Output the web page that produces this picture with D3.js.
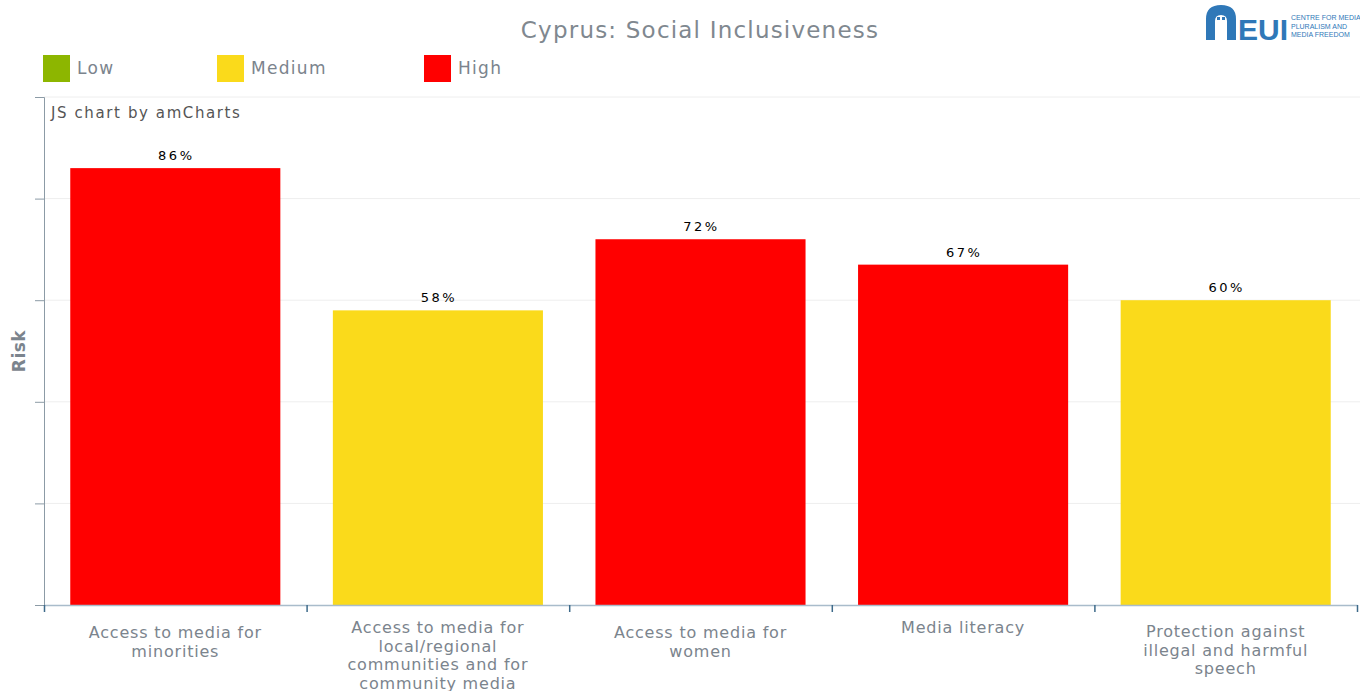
<!DOCTYPE html>
<html><head><meta charset="utf-8">
<script src="https://cdn.jsdelivr.net/npm/d3@7"></script>
<style>body{margin:0;background:#fff;} svg{display:block;font-family:"DejaVu Sans",Verdana,sans-serif;}</style>
</head><body>
<svg id="chart" width="1360" height="691"></svg>
<script>
const categories = [
  ["Access to media for", "minorities"],
  ["Access to media for", "local/regional", "communities and for", "community media"],
  ["Access to media for", "women"],
  ["Media literacy"],
  ["Protection against", "illegal and harmful", "speech"]
];
const values = [86, 58, 72, 67, 60];
const riskLevels = ["High", "Medium", "High", "High", "Medium"];
const legendLabels = ["Low", "Medium", "High"];
const legendColors = ["#8DB600", "#FADA1B", "#FF0000"];
const yTicks = [0, 20, 40, 60, 80, 100];

const svg = d3.select("#chart");
const W = 1360, H = 691;
const m = {left: 44, right: 3, top: 97, bottom: 86};
const x = d3.scaleBand().domain(d3.range(values.length)).range([m.left, W - m.right]).paddingInner(0.2).paddingOuter(0.1);
const xb = d3.scaleLinear().domain([0, values.length]).range([m.left, W - m.right]);
const y = d3.scaleLinear().domain([0, 100]).range([H - m.bottom, m.top]);
const color = d3.scaleOrdinal().domain(legendLabels).range(legendColors);
const textGray = "#7b848d";

// gridlines
svg.append("g").selectAll("line").data(yTicks.slice(1)).join("line")
  .attr("x1", m.left).attr("x2", W).attr("y1", d => y(d)).attr("y2", d => y(d))
  .attr("stroke", "#eeeeee").attr("stroke-width", 1);

// bars
svg.append("g").selectAll("rect").data(values).join("rect")
  .attr("x", (d, i) => x(i)).attr("width", x.bandwidth())
  .attr("y", d => y(d)).attr("height", d => y(0) - y(d))
  .attr("fill", (d, i) => color(riskLevels[i]));

// value labels
svg.append("g").selectAll("text").data(values).join("text")
  .attr("x", (d, i) => x(i) + x.bandwidth() / 2 + 1).attr("y", d => y(d) - 8)
  .attr("text-anchor", "middle").attr("font-size", 13).attr("letter-spacing", 2.5)
  .attr("fill", "#000").text(d => d + "%");

// y axis
const yAxis = svg.append("g").attr("transform", `translate(${m.left},0)`)
  .call(d3.axisLeft(y).tickValues(yTicks).tickSize(9).tickFormat(""));
yAxis.select(".domain").attr("stroke", "#8c9ba6");
yAxis.selectAll(".tick line").attr("stroke", "#8c9ba6");

// x axis
const xAxis = svg.append("g").attr("transform", `translate(0,${y(0)})`)
  .call(d3.axisBottom(xb).tickValues(d3.range(values.length + 1)).tickSize(7).tickSizeOuter(0).tickFormat(""));
xAxis.select(".domain").attr("stroke", "#a9bccb").attr("stroke-width", 1.5);
xAxis.selectAll(".tick line").attr("stroke", "#3d6a8a").attr("stroke-width", 1.5);

// category labels
const firstLine = [632, 627, 632, 627, 631];
const catG = svg.append("g").selectAll("text").data(categories).join("text")
  .attr("text-anchor", "middle").attr("font-size", 16).attr("letter-spacing", 0.8).attr("fill", textGray)
  .attr("x", (d, i) => x(i) + x.bandwidth() / 2);
catG.selectAll("tspan").data((d, i) => d.map(t => ({t, i}))).join("tspan")
  .attr("x", function() { return d3.select(this.parentNode).attr("x"); })
  .attr("y", (d, j) => firstLine[d.i] + 6 + j * 18.5)
  .text(d => d.t);

// y label
svg.append("text").attr("transform", `translate(25,${(y(0) + y(100)) / 2}) rotate(-90)`)
  .attr("text-anchor", "middle").attr("font-size", 17).attr("font-weight", "bold").attr("letter-spacing", 0.5)
  .attr("fill", textGray).text("Risk");

// credit
svg.append("text").attr("x", 51).attr("y", 118).attr("font-size", 15).attr("letter-spacing", 1.6).attr("fill", "#555")
  .text("JS chart by amCharts");

// title
svg.append("text").attr("x", 700).attr("y", 38).attr("text-anchor", "middle").attr("letter-spacing", 1.2)
  .attr("font-size", 23).attr("fill", "#80888f").text("Cyprus: Social Inclusiveness");

// legend
const legX = [43, 217, 424];
const leg = svg.append("g").selectAll("g").data(legendLabels).join("g")
  .attr("transform", (d, i) => `translate(${legX[i]},55)`);
leg.append("rect").attr("width", 27).attr("height", 27).attr("fill", (d, i) => legendColors[i]);
leg.append("text").attr("x", 34).attr("y", 19).attr("font-size", 17).attr("letter-spacing", 1.3).attr("fill", textGray).text(d => d);

// logo
const logo = svg.append("g").attr("transform", "translate(1206,3)");
logo.append("path").attr("d", "M0,37 L0,16 Q0,2 15,2 Q30,2 30,16 L30,37 L21,37 L21,18 Q21,12 15,12 Q9,12 9,18 L9,37 Z")
  .attr("fill", "#2f78b8");
logo.append("rect").attr("x", 11).attr("y", 14).attr("width", 3).attr("height", 3).attr("fill", "#2f78b8");
logo.append("rect").attr("x", 16).attr("y", 14).attr("width", 3).attr("height", 3).attr("fill", "#2f78b8");
logo.append("text").attr("x", 32).attr("y", 37).attr("font-size", 30).attr("font-weight", "bold")
  .attr("font-family", "Liberation Sans Narrow, Liberation Sans, sans-serif").attr("fill", "#2f78b8").text("EUI");
const small = ["CENTRE FOR MEDIA", "PLURALISM AND", "MEDIA FREEDOM"];
logo.append("g").selectAll("text").data(small).join("text")
  .attr("x", 85).attr("y", (d, i) => 17 + i * 8.5).attr("font-size", 7)
  .attr("font-family", "Liberation Sans Narrow, Liberation Sans, sans-serif").attr("fill", "#2f78b8").text(d => d);
</script>
</body></html>
